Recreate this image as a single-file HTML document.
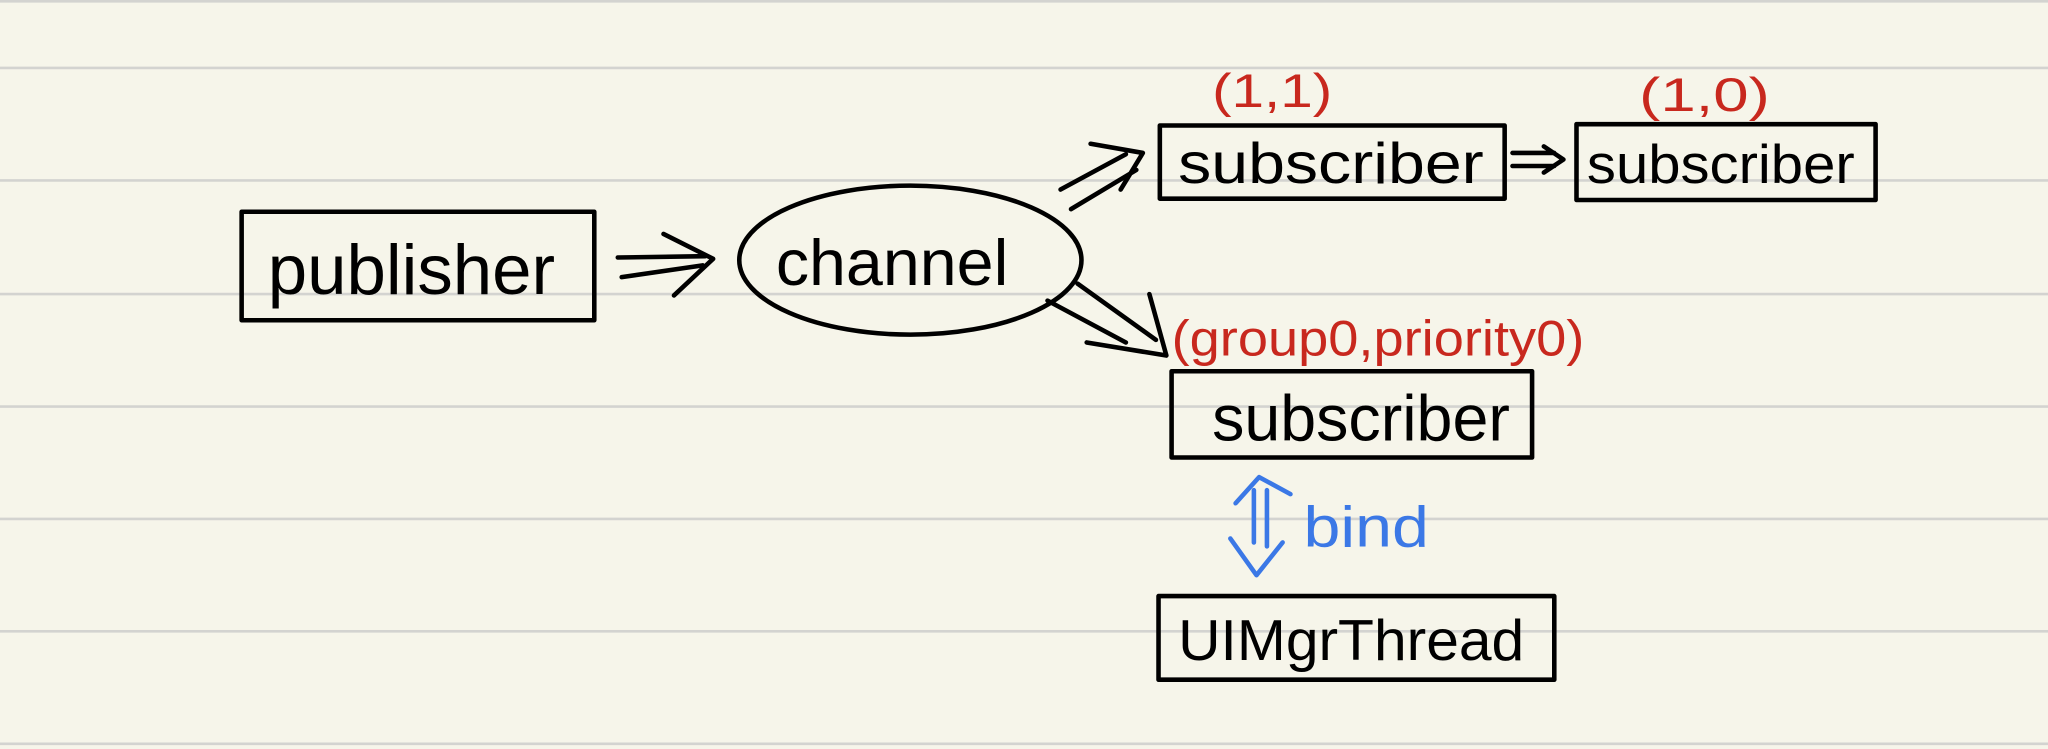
<!DOCTYPE html>
<html><head><meta charset="utf-8"><style>
html,body{margin:0;padding:0;background:#f6f5ea;}
svg{display:block}
</style></head><body>
<svg width="2048" height="749" viewBox="0 0 1568 573" preserveAspectRatio="none" xmlns="http://www.w3.org/2000/svg">
<rect width="1568" height="573" fill="#f6f5ea"/>
<g stroke="#d3d3d0" stroke-width="2">
<line x1="0" y1="1" x2="1568" y2="1"/>
<line x1="0" y1="52" x2="1568" y2="52"/>
<line x1="0" y1="138" x2="1568" y2="138"/>
<line x1="0" y1="225" x2="1568" y2="225"/>
<line x1="0" y1="311" x2="1568" y2="311"/>
<line x1="0" y1="397" x2="1568" y2="397"/>
<line x1="0" y1="483" x2="1568" y2="483"/>
<line x1="0" y1="569" x2="1568" y2="569"/>
</g>
<g fill="none" stroke="#000" stroke-width="3.5" stroke-linecap="round" stroke-linejoin="round">
<rect x="185" y="162" width="270" height="83"/>
<ellipse cx="697" cy="199" rx="131" ry="57"/>
<rect x="888" y="96" width="264" height="56"/>
<rect x="1207" y="95" width="229" height="58"/>
<rect x="897" y="284" width="276" height="66"/>
<rect x="887" y="456" width="303" height="64"/>
<!-- publisher -> channel -->
<path d="M473 197 L540 196 M476 212 L538 203 M508 179 L546 198 L516 226"/>
<!-- channel -> sub1 -->
<path d="M812 145 L862 118 M820 160 L870 130 M835 110 L875 117 L858 145"/>
<!-- channel -> sub3 -->
<path d="M802 230 L862 262 M825 217 L885 260 M832 262 L893 272 L880 225"/>
<!-- sub1 -> sub2 -->
<path d="M1158 117 L1190 117 M1158 127 L1190 127 M1182 112 L1197 122 L1182 132"/>
</g>
<g fill="none" stroke="#3b78e6" stroke-width="3.5" stroke-linecap="round" stroke-linejoin="round">
<path d="M960 375 L960 415 M970 375 L970 418 M946 385 L964 365 L988 378 M942 412 L962 440 L982 415"/>
</g>
<g font-family="Liberation Sans, sans-serif" fill="#000">
<text x="205" y="225" font-size="54" textLength="220" lengthAdjust="spacingAndGlyphs">publisher</text>
<text x="594" y="218" font-size="50" textLength="178" lengthAdjust="spacingAndGlyphs">channel</text>
<text x="902" y="140" font-size="44" textLength="234" lengthAdjust="spacingAndGlyphs">subscriber</text>
<text x="1215" y="140" font-size="42" textLength="205" lengthAdjust="spacingAndGlyphs">subscriber</text>
<text x="928" y="337" font-size="50" textLength="228" lengthAdjust="spacingAndGlyphs">subscriber</text>
<text x="902" y="505" font-size="44" textLength="265" lengthAdjust="spacingAndGlyphs">UIMgrThread</text>
</g>
<g font-family="Liberation Sans, sans-serif" fill="#c8281e">
<text x="928" y="82" font-size="36" textLength="92" lengthAdjust="spacingAndGlyphs">(1,1)</text>
<text x="1255" y="85" font-size="36" textLength="100" lengthAdjust="spacingAndGlyphs">(1,0)</text>
<text x="897" y="272" font-size="38" textLength="316" lengthAdjust="spacingAndGlyphs">(group0,priority0)</text>
</g>
<text x="998" y="418" font-family="Liberation Sans, sans-serif" font-size="44" fill="#3b78e6" textLength="96" lengthAdjust="spacingAndGlyphs">bind</text>
</svg>
</body></html>
